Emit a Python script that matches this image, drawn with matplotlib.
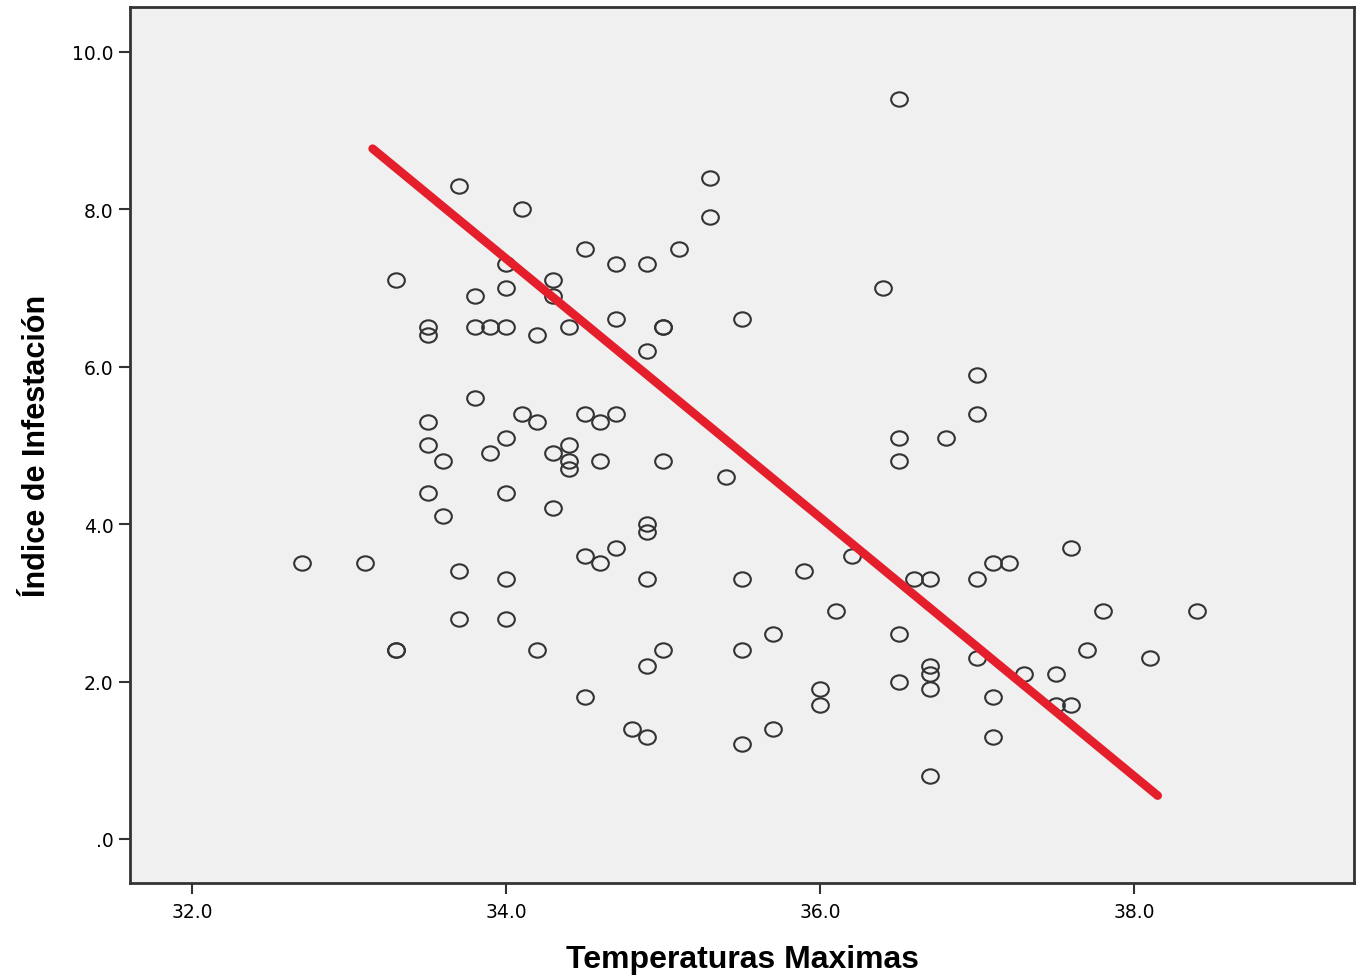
import matplotlib
matplotlib.use("Agg")
import matplotlib.pyplot as plt
from matplotlib import font_manager
from matplotlib.path import Path
from matplotlib.transforms import Affine2D

# Data
temp_max = [32.7, 33.1, 33.3, 33.3, 33.3, 33.5, 33.5, 33.5, 33.5, 33.5, 33.6, 33.6,
            33.7, 33.7, 33.7, 33.8, 33.8, 33.9, 34.0, 33.8, 33.9, 34.0, 34.0, 34.0,
            34.0, 34.0, 34.0, 34.1, 34.1, 34.2, 34.2, 34.2, 34.3, 34.3, 34.3, 34.3,
            34.4, 34.4, 34.4, 34.4, 34.5, 34.5, 34.5, 34.5, 34.6, 34.6, 34.6, 34.7,
            34.7, 34.7, 34.7, 34.8, 34.9, 34.9, 34.9, 34.9, 34.9, 34.9, 34.9, 35.0,
            35.0, 35.0, 35.0, 35.1, 35.3, 35.3, 35.4, 35.5, 35.5, 35.5, 35.5, 35.7,
            35.7, 35.9, 36.0, 36.0, 36.1, 36.2, 36.4, 36.5, 36.5, 36.5, 36.5, 36.5,
            36.6, 36.7, 36.7, 36.7, 36.7, 36.7, 36.8, 37.0, 37.0, 37.0, 37.0, 37.1,
            37.1, 37.1, 37.2, 37.3, 37.5, 37.5, 37.6, 37.6, 37.7, 37.8, 38.1, 38.4]
indice = [3.5, 3.5, 7.1, 2.4, 2.4, 6.5, 6.4, 5.3, 5.0, 4.4, 4.8, 4.1,
          8.3, 3.4, 2.8, 6.9, 6.5, 6.5, 6.5, 5.6, 4.9, 7.3, 7.0, 5.1,
          4.4, 3.3, 2.8, 8.0, 5.4, 6.4, 5.3, 2.4, 7.1, 6.9, 4.9, 4.2,
          6.5, 5.0, 4.8, 4.7, 7.5, 5.4, 3.6, 1.8, 5.3, 4.8, 3.5, 7.3,
          6.6, 5.4, 3.7, 1.4, 7.3, 6.2, 4.0, 3.9, 3.3, 2.2, 1.3, 6.5,
          6.5, 4.8, 2.4, 7.5, 8.4, 7.9, 4.6, 6.6, 3.3, 2.4, 1.2, 2.6,
          1.4, 3.4, 1.9, 1.7, 2.9, 3.6, 7.0, 9.4, 5.1, 4.8, 2.6, 2.0,
          3.3, 3.3, 2.2, 2.1, 1.9, 0.8, 5.1, 5.9, 5.4, 3.3, 2.3, 3.5,
          1.8, 1.3, 3.5, 2.1, 2.1, 1.7, 1.7, 3.7, 2.4, 2.9, 2.3, 2.9]

# Fit line endpoints
fit_x = [33.15, 38.15]
fit_y = [8.77, 0.55]

x_ticks = [32.0, 34.0, 36.0, 38.0]
x_tick_labels = ["32.0", "34.0", "36.0", "38.0"]
y_ticks = [0.0, 2.0, 4.0, 6.0, 8.0, 10.0]
y_tick_labels = [".0", "2.0", "4.0", "6.0", "8.0", "10.0"]

names = {f.name for f in font_manager.fontManager.ttflist}
narrow = "Liberation Sans Narrow" if "Liberation Sans Narrow" in names else "Liberation Sans"

ellipse = Path.unit_circle().transformed(Affine2D().scale(1.0, 0.86))

fig = plt.figure(figsize=(13.58, 9.79), dpi=100)
ax = fig.add_axes([130/1358, 1 - 884/979, (1354-130)/1358, (884-8)/979])
ax.set_facecolor("#F0F0F0")

ax.plot(temp_max, indice, linestyle="none", marker=ellipse, markersize=12,
        markerfacecolor="none", markeredgecolor="#333333", markeredgewidth=1.5, zorder=3)
ax.plot(fit_x, fit_y, color="#E41E2B", linewidth=6.2, solid_capstyle="round", zorder=4)

ax.set_xlim(31.605, 39.40)
ax.set_ylim(-0.56, 10.57)
ax.set_xticks(x_ticks)
ax.set_xticklabels(x_tick_labels, family="DejaVu Sans", fontsize=13.5)
ax.set_yticks(y_ticks)
ax.set_yticklabels(y_tick_labels, family="DejaVu Sans", fontsize=13.5)
ax.tick_params(direction="out", length=8, width=1.5, color="#333333", pad=4)
ax.tick_params(axis="x", pad=6)

for s in ax.spines.values():
    s.set_linewidth(2)
    s.set_color("#333333")

ax.set_xlabel("Temperaturas Maximas", family=narrow, fontweight="bold", fontsize=23, labelpad=16)
ax.set_ylabel("Índice de Infestación", family=narrow, fontweight="bold", fontsize=22, labelpad=14)

fig.savefig("out.png", dpi=100)
